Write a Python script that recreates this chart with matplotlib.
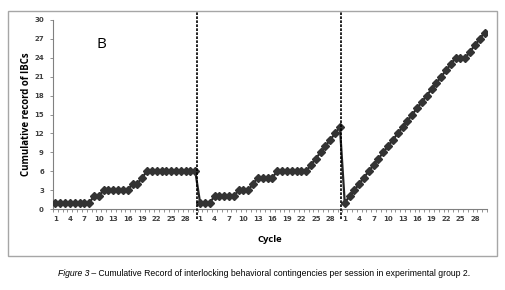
import matplotlib
matplotlib.use("Agg")
import matplotlib.pyplot as plt
from matplotlib.patches import Rectangle

# Cumulative IBCs per cycle, three sessions of 30 cycles
SESSAO_1 = [1, 1, 1, 1, 1, 1, 1, 1, 2, 2, 3, 3, 3, 3, 3, 3, 4, 4, 5, 6,
            6, 6, 6, 6, 6, 6, 6, 6, 6, 6]
SESSAO_2 = [1, 1, 1, 2, 2, 2, 2, 2, 3, 3, 3, 4, 5, 5, 5, 5, 6, 6, 6, 6,
            6, 6, 6, 7, 8, 9, 10, 11, 12, 13]
SESSAO_3 = [1, 2, 3, 4, 5, 6, 7, 8, 9, 10, 11, 12, 13, 14, 15, 16, 17, 18, 19, 20,
            21, 22, 23, 24, 24, 24, 25, 26, 27, 28]
Y_TICKS = [0, 3, 6, 9, 12, 15, 18, 21, 24, 27, 30]
ROTULOS_X = [1, 4, 7, 10, 13, 16, 19, 22, 25, 28]

valores = SESSAO_1 + SESSAO_2 + SESSAO_3
n = len(valores)
xs = list(range(n))

W, H = 506, 290
fig = plt.figure(figsize=(W / 100, H / 100), dpi=100)
ax = fig.add_axes([53 / W, 1 - 209 / H, (487 - 53) / W, (209 - 20) / H])

# moldura externa do gráfico
fig.patches.append(Rectangle((8 / W, 1 - 256 / H), (497 - 8) / W, (256 - 11) / H,
                             transform=fig.transFigure, fill=False,
                             edgecolor="#a6a6a6", linewidth=1.0))

ax.plot(xs, valores, color="#262626", linewidth=1.6, marker="D",
        markersize=3.6, markerfacecolor="#333333", markeredgecolor="#333333", zorder=3)

# separadores de sessão
for xsep in [29.3, 59.3]:
    ax.axvline(xsep, ymin=-0.055, ymax=1.048, color="black", linestyle=(0, (1.6, 0.8)),
               linewidth=1.2, clip_on=False, zorder=4)

ax.set_xlim(-0.5, n - 0.5)
ax.set_ylim(0, 30)
ax.set_yticks(Y_TICKS)
ax.set_yticklabels([str(v) for v in Y_TICKS], fontsize=5, fontweight="bold", color="#404040")

pos, labs = [], []
for s in range(3):
    for c in ROTULOS_X:
        pos.append(s * 30 + c - 1)
        labs.append(str(c))
ax.set_xticks(pos)
ax.set_xticklabels(labs, fontsize=5, fontweight="bold", color="#404040")
ax.set_xticks([i - 0.5 for i in range(n + 1)], minor=True)
ax.tick_params(axis="x", which="major", length=0, pad=5)
ax.tick_params(axis="x", which="minor", length=2.5, color="#808080", width=0.6)
ax.tick_params(axis="y", length=2.5, color="#808080", width=0.6, pad=4)

for lado in ["top", "right"]:
    ax.spines[lado].set_visible(False)
for lado in ["left", "bottom"]:
    ax.spines[lado].set_color("#808080")
    ax.spines[lado].set_linewidth(0.8)

fig.text(27 / W, 1 - 114 / H, "Cumulative record of IBCs", rotation=90,
         ha="center", va="center", fontsize=6.9, fontweight="bold", family="Open Sans")
fig.text(270 / W, 1 - 240 / H, "Cycle", ha="center", va="center",
         fontsize=6.8, fontweight="bold", family="Open Sans")
fig.text(101 / W, 1 - 44 / H, "B", ha="center", va="center", fontsize=11, family="Open Sans")

t1 = fig.text(58 / W, 1 - 276 / H, "Figure 3", fontsize=6.25, style="italic",
              family="Liberation Sans", ha="left", va="baseline")
ax.annotate(" \u2013 Cumulative Record of interlocking behavioral contingencies per session in experimental group 2.",
            xy=(1, 0), xycoords=t1, fontsize=6.25, family="Liberation Sans",
            ha="left", va="bottom", annotation_clip=False)

fig.savefig("out.png", dpi=100)
